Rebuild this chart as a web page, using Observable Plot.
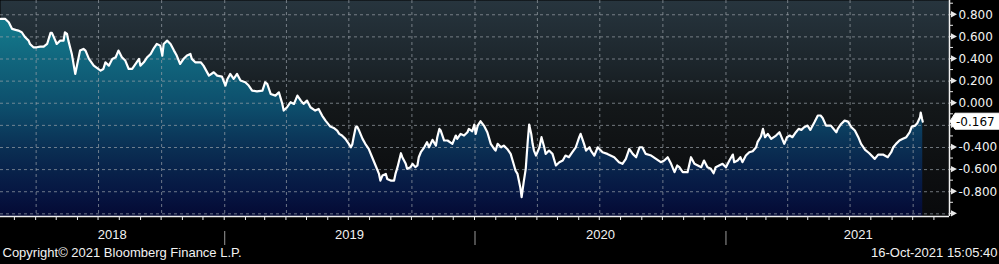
<!DOCTYPE html>
<html>
<head>
<meta charset="utf-8">
<script src="https://cdn.jsdelivr.net/npm/d3@7"></script>
<script src="https://cdn.jsdelivr.net/npm/@observablehq/plot@0.6"></script>
<style>
html, body { margin: 0; padding: 0; background: #000; }
#chart { width: 999px; height: 264px; overflow: hidden; }
</style>
</head>
<body>
<div id="chart"></div>
<script>
// ---- data ----
const dates = [
"2018-02-08","2018-02-15","2018-02-20","2018-02-25","2018-03-02","2018-03-06","2018-03-11","2018-03-16","2018-03-21","2018-03-23",
"2018-03-28","2018-04-02","2018-04-07","2018-04-12","2018-04-17","2018-04-22","2018-04-24","2018-04-29","2018-05-01","2018-05-06",
"2018-05-11","2018-05-13","2018-05-16","2018-05-18","2018-05-23","2018-05-28","2018-05-31","2018-06-04","2018-06-09","2018-06-12",
"2018-06-17","2018-06-24","2018-07-04","2018-07-08","2018-07-11","2018-07-16","2018-07-21","2018-07-26","2018-07-30","2018-08-04",
"2018-08-09","2018-08-14","2018-08-19","2018-08-24","2018-08-29","2018-08-31","2018-09-05","2018-09-10","2018-09-15","2018-09-19",
"2018-09-24","2018-09-29","2018-10-02","2018-10-04","2018-10-09","2018-10-14","2018-10-19","2018-10-23","2018-10-28","2018-11-02",
"2018-11-07","2018-11-12","2018-11-14","2018-11-19","2018-11-27","2018-12-01","2018-12-09","2018-12-16","2018-12-21","2018-12-28",
"2019-01-02","2019-01-05","2019-01-09","2019-01-14","2019-01-19","2019-01-24","2019-01-31","2019-02-05","2019-02-10","2019-02-17",
"2019-02-25","2019-03-01","2019-03-04","2019-03-09","2019-03-16","2019-03-21","2019-03-26","2019-03-28","2019-04-02","2019-04-07",
"2019-04-12","2019-04-17","2019-04-22","2019-04-26","2019-05-01","2019-05-06","2019-05-13","2019-05-18","2019-05-23","2019-05-28",
"2019-06-04","2019-06-09","2019-06-14","2019-06-17","2019-06-21","2019-06-26","2019-07-01","2019-07-04","2019-07-06","2019-07-08",
"2019-07-11","2019-07-13","2019-07-16","2019-07-21","2019-07-25","2019-07-30","2019-08-04","2019-08-09","2019-08-14","2019-08-16",
"2019-08-19","2019-08-24","2019-08-26","2019-08-31","2019-09-05","2019-09-07","2019-09-10","2019-09-15","2019-09-17","2019-09-22",
"2019-09-24","2019-09-29","2019-10-02","2019-10-06","2019-10-09","2019-10-11","2019-10-14","2019-10-19","2019-10-23","2019-10-26",
"2019-10-31","2019-11-05","2019-11-07","2019-11-10","2019-11-12","2019-11-17","2019-11-22","2019-11-29","2019-12-04","2019-12-06",
"2019-12-11","2019-12-16","2019-12-21","2019-12-23","2019-12-28","2019-12-31",
"2020-01-02","2020-01-05","2020-01-09","2020-01-14","2020-01-19","2020-01-24","2020-01-29","2020-01-31","2020-02-03","2020-02-08",
"2020-02-12","2020-02-17","2020-02-22","2020-02-27","2020-02-29","2020-03-03","2020-03-07","2020-03-09","2020-03-12","2020-03-15",
"2020-03-18","2020-03-20","2020-03-23","2020-03-25","2020-03-27","2020-03-30","2020-04-04","2020-04-07","2020-04-11","2020-04-13",
"2020-04-18","2020-04-23","2020-04-28","2020-05-03","2020-05-08","2020-05-12","2020-05-17","2020-05-22","2020-05-27","2020-06-01",
"2020-06-03","2020-06-08","2020-06-11","2020-06-16","2020-06-18","2020-06-23","2020-06-28","2020-07-05","2020-07-12","2020-07-22",
"2020-07-29","2020-08-03","2020-08-08","2020-08-13","2020-08-18","2020-08-23","2020-08-28","2020-09-01","2020-09-06","2020-09-14",
"2020-09-21","2020-09-28","2020-10-03","2020-10-08","2020-10-13","2020-10-18","2020-10-22","2020-10-25","2020-10-30","2020-11-06",
"2020-11-11","2020-11-16","2020-11-21","2020-11-26","2020-11-30","2020-12-05","2020-12-10","2020-12-14","2020-12-17","2020-12-22",
"2020-12-27",
"2021-01-01","2021-01-06","2021-01-11","2021-01-13","2021-01-18","2021-01-22","2021-01-25","2021-01-30","2021-02-04","2021-02-09",
"2021-02-14","2021-02-16","2021-02-21","2021-02-24","2021-02-27","2021-03-03","2021-03-08","2021-03-15","2021-03-20","2021-03-23",
"2021-03-27","2021-03-31","2021-04-04","2021-04-08","2021-04-13","2021-04-17","2021-04-21","2021-04-25","2021-04-30","2021-05-04",
"2021-05-10","2021-05-15","2021-05-19","2021-05-22","2021-05-27","2021-06-03","2021-06-11","2021-06-13","2021-06-18","2021-06-23",
"2021-06-28","2021-07-03","2021-07-08","2021-07-13","2021-07-17","2021-07-23","2021-07-29","2021-08-06","2021-08-11","2021-08-18",
"2021-08-25","2021-08-30","2021-09-02","2021-09-06","2021-09-11","2021-09-16","2021-09-21","2021-09-26","2021-09-29","2021-10-04",
"2021-10-07","2021-10-11","2021-10-12","2021-10-14","2021-10-15"
];
const values = [
0.762,0.762,0.732,0.672,0.663,0.657,0.642,0.596,0.566,0.536,
0.506,0.506,0.512,0.512,0.536,0.636,0.636,0.566,0.536,0.566,
0.566,0.642,0.627,0.566,0.446,0.265,0.355,0.476,0.491,0.476,
0.401,0.340,0.295,0.310,0.370,0.340,0.401,0.416,0.476,0.416,
0.386,0.310,0.310,0.355,0.401,0.340,0.370,0.416,0.446,0.491,
0.536,0.521,0.431,0.536,0.566,0.536,0.476,0.431,0.355,0.401,
0.431,0.446,0.401,0.370,0.370,0.340,0.250,0.280,0.250,0.241,
0.160,0.220,0.265,0.220,0.265,0.205,0.190,0.160,0.114,0.108,
0.114,0.190,0.175,0.084,0.069,0.099,-0.006,-0.066,-0.036,0.009,
-0.006,0.069,0.024,-0.006,0.024,-0.036,-0.066,-0.051,-0.111,-0.157,
-0.211,-0.223,-0.247,-0.277,-0.292,-0.322,-0.367,-0.398,-0.373,-0.307,
-0.217,-0.211,-0.247,-0.322,-0.367,-0.413,-0.488,-0.563,-0.639,-0.699,
-0.654,-0.639,-0.684,-0.699,-0.699,-0.639,-0.578,-0.452,-0.488,-0.548,
-0.593,-0.578,-0.548,-0.578,-0.563,-0.488,-0.443,-0.398,-0.352,-0.398,
-0.331,-0.383,-0.307,-0.232,-0.247,-0.337,-0.337,-0.367,-0.292,-0.322,
-0.277,-0.292,-0.262,-0.232,-0.253,-0.193,
-0.277,-0.202,-0.163,-0.202,-0.262,-0.367,-0.413,-0.428,-0.367,-0.398,
-0.383,-0.413,-0.458,-0.563,-0.608,-0.639,-0.759,-0.849,-0.714,-0.593,
-0.337,-0.193,-0.277,-0.367,-0.428,-0.473,-0.398,-0.307,-0.398,-0.458,
-0.428,-0.458,-0.563,-0.533,-0.518,-0.473,-0.488,-0.443,-0.398,-0.307,
-0.277,-0.367,-0.428,-0.398,-0.428,-0.473,-0.398,-0.443,-0.458,-0.488,
-0.533,-0.548,-0.503,-0.413,-0.458,-0.488,-0.398,-0.398,-0.458,-0.473,
-0.503,-0.533,-0.518,-0.488,-0.548,-0.623,-0.563,-0.578,-0.623,-0.623,
-0.488,-0.548,-0.563,-0.578,-0.518,-0.578,-0.593,-0.633,-0.578,-0.563,
-0.548,
-0.578,-0.518,-0.464,-0.533,-0.518,-0.488,-0.533,-0.473,-0.443,-0.434,
-0.398,-0.352,-0.301,-0.232,-0.307,-0.277,-0.322,-0.292,-0.262,-0.307,
-0.367,-0.307,-0.292,-0.307,-0.262,-0.232,-0.241,-0.217,-0.202,-0.241,
-0.172,-0.111,-0.111,-0.133,-0.202,-0.202,-0.262,-0.232,-0.187,-0.157,
-0.166,-0.217,-0.247,-0.307,-0.367,-0.422,-0.452,-0.503,-0.464,-0.464,
-0.488,-0.443,-0.398,-0.367,-0.337,-0.322,-0.307,-0.262,-0.211,-0.202,
-0.181,-0.127,-0.084,-0.142,-0.167
];
const lastValue = -0.167;

// ---- axes / ticks ----
const xDomain = ["2018-02-08", "2021-11-23"];
const yDomain = [-1.024, 0.929];
const yTicks = [-1.0, -0.8, -0.6, -0.4, -0.2, 0.0, 0.2, 0.4, 0.6, 0.8];
// -0.200 and -1.000 labels are hidden in the reference (tag / bottom)
const yLabelTicks = [-0.8, -0.6, -0.4, 0.0, 0.2, 0.4, 0.6, 0.8];
const yMinorTicks = [-0.9, -0.7, -0.5, -0.3, -0.1, 0.1, 0.3, 0.5, 0.7, 0.9];
const quarterTicks = [
"2018-04-01","2018-07-01","2018-10-01","2019-01-01","2019-04-01","2019-07-01","2019-10-01",
"2020-01-01","2020-04-01","2020-07-01","2020-10-01","2021-01-01","2021-04-01","2021-07-01","2021-10-01"
];
const monthTicks = [
"2018-03-01","2018-04-01","2018-05-01","2018-06-01","2018-07-01","2018-08-01","2018-09-01","2018-10-01","2018-11-01","2018-12-01",
"2019-01-01","2019-02-01","2019-03-01","2019-04-01","2019-05-01","2019-06-01","2019-07-01","2019-08-01","2019-09-01","2019-10-01","2019-11-01","2019-12-01",
"2020-01-01","2020-02-01","2020-03-01","2020-04-01","2020-05-01","2020-06-01","2020-07-01","2020-08-01","2020-09-01","2020-10-01","2020-11-01","2020-12-01",
"2021-01-01","2021-02-01","2021-03-01","2021-04-01","2021-05-01","2021-06-01","2021-07-01","2021-08-01","2021-09-01","2021-10-01","2021-11-01"
];
const yearStarts = ["2019-01-01", "2020-01-01", "2021-01-01"];
const yearLabels = ["2018", "2019", "2020", "2021"];
const yearLabelDates = ["2018-07-21", "2019-07-02", "2020-07-02", "2021-07-13"];
const copyrightText = "Copyright\u00A9 2021 Bloomberg Finance L.P.";
const stampText = "16-Oct-2021 15:05:40";

const parse = s => new Date(s + "T00:00:00Z");
const data = dates.map((d, i) => ({date: parse(d), value: values[i]}));
const fmt = v => v.toFixed(3);
const FONT = "'Liberation Sans', Arial, sans-serif";
const AXFONT = "'DejaVu Sans', Verdana, sans-serif";

// gradient definitions
function defsMark() {
  const defs = d3.create("svg:defs");
  const bg = defs.append("linearGradient").attr("id", "bbgBg")
    .attr("gradientUnits", "userSpaceOnUse").attr("x1", 0).attr("y1", 0).attr("x2", 0).attr("y2", 216);
  [[0, "#27353e"], [0.3, "#1c252b"], [0.5, "#131719"], [0.75, "#0e1012"], [1, "#090a0c"]]
    .forEach(([o, c]) => bg.append("stop").attr("offset", o).attr("stop-color", c));
  const ar = defs.append("linearGradient").attr("id", "bbgArea")
    .attr("gradientUnits", "userSpaceOnUse").attr("x1", 0).attr("y1", 0).attr("x2", 0).attr("y2", 216);
  [[0, "#188a9c"], [0.1, "#147a8c"], [0.5, "#0d4d6b"], [0.7, "#0a2d52"], [0.9, "#061541"], [1, "#040a34"]]
    .forEach(([o, c]) => ar.append("stop").attr("offset", o).attr("stop-color", c));
  return defs.node();
}

// axis decorations: right-axis arrows, minor ticks, month ticks, year separators, last-value tag
function decorations(index, scales, values, dimensions) {
  const x = scales.x, y = scales.y;
  const right = dimensions.width - dimensions.marginRight;
  const bottom = dimensions.height - dimensions.marginBottom;
  const g = d3.create("svg:g");
  // month ticks
  g.append("g").selectAll("line").data(monthTicks).join("line")
    .attr("x1", d => x(parse(d))).attr("x2", d => x(parse(d)))
    .attr("y1", bottom).attr("y2", bottom + 4)
    .attr("stroke", "#e8e8e8").attr("stroke-width", 1);
  // year separators
  g.append("g").selectAll("line").data(yearStarts).join("line")
    .attr("x1", d => x(parse(d)) + 0.5).attr("x2", d => x(parse(d)) + 0.5)
    .attr("y1", bottom + 15).attr("y2", bottom + 29)
    .attr("stroke", "#9a9a9a").attr("stroke-width", 1);
  // minor y ticks
  g.append("g").selectAll("line").data(yMinorTicks).join("line")
    .attr("x1", right).attr("x2", right + 4)
    .attr("y1", d => y(d)).attr("y2", d => y(d))
    .attr("stroke", "#e8e8e8").attr("stroke-width", 1);
  // major y ticks with arrow heads
  g.append("g").selectAll("path").data(yTicks).join("path")
    .attr("d", d => { const t = y(d); return `M${right},${t - 0.6}h3v1.2h-3z M${right + 2},${t - 3.2}L${right + 8},${t}L${right + 2},${t + 3.2}z`; })
    .attr("fill", "#e8e8e8");
  // last value tag
  const ty = y(lastValue);
  g.append("path")
    .attr("d", `M${right + 1},${ty} L${right + 6},${ty - 8} H${right + 52} V${ty + 8} H${right + 6} Z`)
    .attr("fill", "#ffffff").attr("stroke", "#ffffff").attr("stroke-width", 1).attr("stroke-linejoin", "round");
  g.append("text")
    .attr("x", right + 7).attr("y", ty).attr("dy", "0.36em")
    .attr("text-anchor", "start")
    .attr("fill", "#000").attr("font-family", AXFONT).attr("font-size", 12)
    .text(fmt(lastValue));
  return g.node();
}

const chart = Plot.plot({
  width: 999,
  height: 264,
  marginLeft: 0,
  marginRight: 50,
  marginTop: 0,
  marginBottom: 48,
  style: {background: "#000", fontFamily: FONT, fontSize: "13px", overflow: "visible"},
  x: {type: "utc", domain: xDomain.map(parse), axis: null},
  y: {domain: yDomain, axis: null},
  marks: [
    defsMark,
    Plot.frame({fill: "url(#bbgBg)", stroke: null}),
    Plot.areaY(data, {x: "date", y1: yDomain[0], y2: "value", fill: "url(#bbgArea)", curve: "linear"}),
    Plot.ruleY(yTicks, {stroke: "#9aa1a8", strokeOpacity: 0.7, strokeDasharray: "3,3", strokeWidth: 1}),
    Plot.ruleX(quarterTicks.map(parse), {stroke: "#9aa1a8", strokeOpacity: 0.7, strokeDasharray: "3,3", strokeWidth: 1}),
    Plot.lineY(data, {x: "date", y: "value", stroke: "#ffffff", strokeWidth: 2.2, curve: "linear"}),
    Plot.ruleY([yDomain[0]], {stroke: "#f0f0f0", strokeWidth: 1.5}),
    Plot.ruleX([parse(xDomain[1])], {stroke: "#f0f0f0", strokeWidth: 1.5}),
    Plot.text(yLabelTicks, {y: d => d, text: d => fmt(d), frameAnchor: "right", dx: 9, textAnchor: "start", fill: "#f2f2f2", fontSize: 12, fontFamily: AXFONT}),
    Plot.text(yearLabels, {x: (d, i) => parse(yearLabelDates[i]), text: d => d, frameAnchor: "bottom", dy: 22, fill: "#f2f2f2", fontSize: 13}),
    decorations,
    Plot.text([copyrightText], {text: d => d, frameAnchor: "bottom-left", dx: 2, dy: 40, textAnchor: "start", fill: "#f2f2f2", fontSize: 13}),
    Plot.text([stampText], {text: d => d, frameAnchor: "bottom-right", dx: 48, dy: 40, textAnchor: "end", fill: "#f2f2f2", fontSize: 13})
  ]
});
document.getElementById("chart").append(chart);
</script>
</body>
</html>
